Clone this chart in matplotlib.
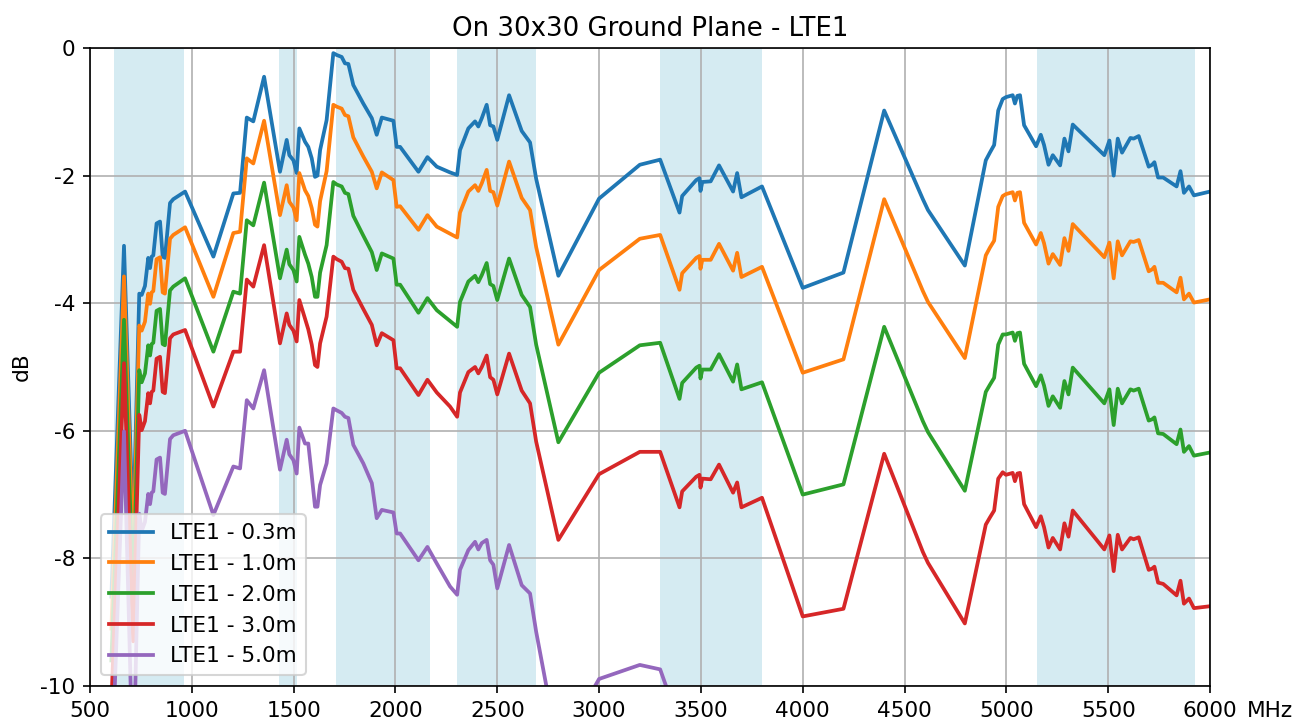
import numpy as np
import matplotlib
matplotlib.use("Agg")
import matplotlib.pyplot as plt

plt.rcParams['axes.unicode_minus'] = False
plt.rcParams['font.size'] = 10.4

# measurement frequencies (MHz)
freq = [605, 667, 712, 742, 754, 770, 786, 795, 803, 811, 827, 844, 857, 868, 893, 909, 967,
        1106, 1204, 1237, 1270, 1302, 1355, 1433, 1466, 1479, 1499, 1515, 1528, 1556, 1572,
        1589, 1605, 1617, 1630, 1662, 1695, 1712, 1736, 1752, 1769, 1793, 1842, 1884, 1908,
        1933, 1990, 2006, 2023, 2113, 2157, 2203, 2268, 2303, 2317, 2358, 2391, 2407, 2424,
        2448, 2465, 2481, 2500, 2558, 2620, 2661, 2691, 2800, 3000, 3200, 3300, 3395, 3408,
        3477, 3493, 3498, 3507, 3548, 3589, 3658, 3678, 3699, 3800, 4000, 4200, 4400, 4590,
        4615, 4796, 4899, 4919, 4940, 4960, 4982, 4998, 5031, 5042, 5054, 5067, 5087, 5146,
        5169, 5185, 5207, 5228, 5264, 5285, 5305, 5326, 5481, 5506, 5527, 5547, 5568, 5609,
        5625, 5650, 5699, 5716, 5727, 5745, 5770, 5836, 5855, 5872, 5897, 5921, 6000]

lte_03 = [-8.6, -3.10, -7.6, -3.85, -3.87, -3.73, -3.29, -3.45, -3.27, -3.25, -2.75, -2.72, -3.27, -3.29, -2.43, -2.37, -2.25,
          -3.27, -2.28, -2.27, -1.09, -1.15, -0.45, -1.94, -1.44, -1.68, -1.76, -1.96, -1.26, -1.47, -1.55,
          -1.73, -2.02, -2.00, -1.60, -1.13, -0.08, -0.11, -0.14, -0.24, -0.25, -0.58, -0.87, -1.10, -1.36,
          -1.09, -1.14, -1.55, -1.55, -1.94, -1.71, -1.86, -1.95, -1.99, -1.60, -1.26, -1.15, -1.23, -1.10,
          -0.89, -1.21, -1.23, -1.44, -0.74, -1.30, -1.48, -2.05, -3.57, -2.36, -1.83, -1.75, -2.58, -2.32,
          -2.07, -2.04, -2.24, -2.10, -2.09, -1.84, -2.25, -1.96, -2.34, -2.17, -3.76, -3.52, -0.98, -2.37,
          -2.54, -3.41, -1.76, -1.64, -1.52, -0.98, -0.80, -0.77, -0.74, -0.87, -0.75, -0.74, -1.21, -1.54,
          -1.36, -1.52, -1.83, -1.68, -1.84, -1.42, -1.62, -1.20, -1.68, -1.45, -2.00, -1.42, -1.64, -1.41,
          -1.42, -1.38, -1.86, -1.83, -1.79, -2.03, -2.03, -2.17, -1.93, -2.27, -2.17, -2.31, -2.25]

lte_10 = [-9.1, -3.58, -8.0, -4.35, -4.43, -4.29, -3.85, -4.01, -3.83, -3.81, -3.31, -3.28, -3.83, -3.85, -2.99, -2.93, -2.81,
          -3.90, -2.90, -2.88, -1.73, -1.81, -1.14, -2.62, -2.15, -2.41, -2.50, -2.70, -1.96, -2.23, -2.32,
          -2.51, -2.77, -2.80, -2.40, -1.93, -0.89, -0.92, -0.95, -1.05, -1.07, -1.40, -1.70, -1.94, -2.20,
          -1.95, -2.07, -2.49, -2.48, -2.85, -2.62, -2.80, -2.91, -2.97, -2.58, -2.25, -2.15, -2.24, -2.12,
          -1.91, -2.24, -2.26, -2.47, -1.78, -2.35, -2.54, -3.12, -4.65, -3.48, -2.99, -2.93, -3.79, -3.53,
          -3.29, -3.26, -3.46, -3.32, -3.32, -3.07, -3.49, -3.21, -3.59, -3.43, -5.09, -4.88, -2.37, -3.81,
          -3.98, -4.86, -3.25, -3.13, -3.02, -2.49, -2.32, -2.29, -2.26, -2.39, -2.27, -2.26, -2.74, -3.08,
          -2.90, -3.06, -3.38, -3.23, -3.40, -2.98, -3.18, -2.76, -3.28, -3.05, -3.61, -3.03, -3.25, -3.03,
          -3.04, -3.01, -3.50, -3.47, -3.43, -3.68, -3.68, -3.83, -3.60, -3.94, -3.85, -3.99, -3.94]

lte_20 = [-9.6, -4.26, -8.6, -5.05, -5.24, -5.10, -4.66, -4.82, -4.64, -4.62, -4.12, -4.09, -4.64, -4.66, -3.80, -3.74, -3.61,
          -4.76, -3.82, -3.85, -2.70, -2.78, -2.11, -3.61, -3.16, -3.39, -3.48, -3.66, -2.96, -3.24, -3.38,
          -3.59, -3.90, -3.90, -3.52, -3.09, -2.10, -2.14, -2.17, -2.27, -2.29, -2.63, -2.94, -3.20, -3.48,
          -3.22, -3.30, -3.71, -3.71, -4.15, -3.92, -4.11, -4.28, -4.37, -3.98, -3.66, -3.57, -3.67, -3.56,
          -3.37, -3.70, -3.73, -3.95, -3.30, -3.87, -4.06, -4.65, -6.18, -5.09, -4.66, -4.62, -5.50, -5.25,
          -5.01, -4.98, -5.18, -5.04, -5.04, -4.80, -5.23, -4.96, -5.35, -5.24, -7.00, -6.84, -4.37, -5.85,
          -6.02, -6.94, -5.39, -5.28, -5.17, -4.65, -4.49, -4.49, -4.46, -4.59, -4.47, -4.46, -4.95, -5.30,
          -5.13, -5.29, -5.61, -5.46, -5.64, -5.22, -5.43, -5.01, -5.57, -5.35, -5.91, -5.34, -5.57, -5.35,
          -5.37, -5.34, -5.84, -5.82, -5.79, -6.04, -6.05, -6.21, -5.98, -6.33, -6.24, -6.39, -6.34]

lte_30 = [-10.3, -4.94, -9.3, -5.75, -5.99, -5.85, -5.41, -5.57, -5.39, -5.37, -4.87, -4.84, -5.39, -5.41, -4.55, -4.49, -4.42,
          -5.62, -4.76, -4.76, -3.63, -3.74, -3.09, -4.63, -4.16, -4.34, -4.43, -4.60, -3.95, -4.24, -4.41,
          -4.65, -4.97, -5.00, -4.63, -4.21, -3.27, -3.31, -3.35, -3.45, -3.46, -3.79, -4.09, -4.34, -4.66,
          -4.47, -4.58, -5.02, -5.02, -5.44, -5.20, -5.40, -5.62, -5.78, -5.40, -5.08, -5.00, -5.10, -5.00,
          -4.82, -5.16, -5.20, -5.43, -4.79, -5.37, -5.57, -6.17, -7.71, -6.68, -6.33, -6.33, -7.20, -6.95,
          -6.72, -6.69, -6.89, -6.75, -6.76, -6.53, -6.97, -6.81, -7.20, -7.05, -8.91, -8.79, -6.36, -7.90,
          -8.07, -9.02, -7.47, -7.36, -7.25, -6.75, -6.65, -6.69, -6.66, -6.79, -6.67, -6.66, -7.15, -7.51,
          -7.34, -7.51, -7.83, -7.68, -7.86, -7.45, -7.66, -7.25, -7.86, -7.64, -8.20, -7.63, -7.86, -7.68,
          -7.70, -7.67, -8.18, -8.16, -8.13, -8.38, -8.40, -8.58, -8.35, -8.71, -8.63, -8.78, -8.75]

nan = np.nan
lte_50 = [-11.5, -6.01, -11.5, -7.30, -7.57, -7.43, -6.99, -7.15, -6.97, -6.95, -6.45, -6.42, -6.97, -6.99, -6.13, -6.07, -6.00,
          -7.32, -6.56, -6.59, -5.52, -5.65, -5.05, -6.61, -6.14, -6.37, -6.46, -6.67, -5.95, -6.20, -6.20,
          -6.70, -7.19, -7.19, -6.85, -6.51, -5.65, -5.68, -5.72, -5.78, -5.80, -6.22, -6.51, -6.82, -7.37,
          -7.24, -7.28, -7.61, -7.61, -8.03, -7.82, -8.08, -8.44, -8.57, -8.18, -7.87, -7.74, -7.86, -7.76,
          -7.71, -8.03, -8.10, -8.47, -7.79, -8.42, -8.55, -9.15, -11.0, -9.89, -9.67, -9.74, -10.6, nan,
          nan, nan, nan, nan, nan, nan, nan, nan, nan, nan, nan, nan, nan, nan,
          nan, nan, nan, nan, nan, nan, nan, nan, nan, nan, nan, nan, nan, nan,
          nan, nan, nan, nan, nan, nan, nan, nan, nan, nan, nan, nan, nan, nan,
          nan, nan, nan, nan, nan, nan, nan, nan, nan, nan, nan, nan, nan]

labels = ['LTE1 - 0.3m', 'LTE1 - 1.0m', 'LTE1 - 2.0m', 'LTE1 - 3.0m', 'LTE1 - 5.0m']

# LTE band ranges (MHz) shaded on the plot
bands = [(617, 960), (1427, 1518), (1710, 2170), (2300, 2690), (3300, 3800), (5150, 5925)]

fig = plt.figure(figsize=(1306 / 150, 722 / 150), dpi=150)
ax = fig.add_axes([0.0689, 0.0499, 0.8576, 0.8836])

for lo, hi in bands:
    ax.axvspan(lo, hi, color='lightblue', alpha=0.5, lw=0)

for ys, lab in zip([lte_03, lte_10, lte_20, lte_30, lte_50], labels):
    ax.plot(freq, ys, label=lab, lw=1.8)

ax.set_xlim(500, 6000)
ax.set_ylim(-10, 0)
ax.set_xticks(np.arange(500, 6001, 500))
ax.set_yticks(np.arange(-10, 1, 2))
ax.grid(True)
ax.set_title('On 30x30 Ground Plane - LTE1')
ax.set_ylabel('dB')
ax.text(1.033, -0.0229, 'MHz', transform=ax.transAxes, ha='left', va='top')
ax.legend(loc='lower left')

fig.savefig('out.png', dpi=150)
